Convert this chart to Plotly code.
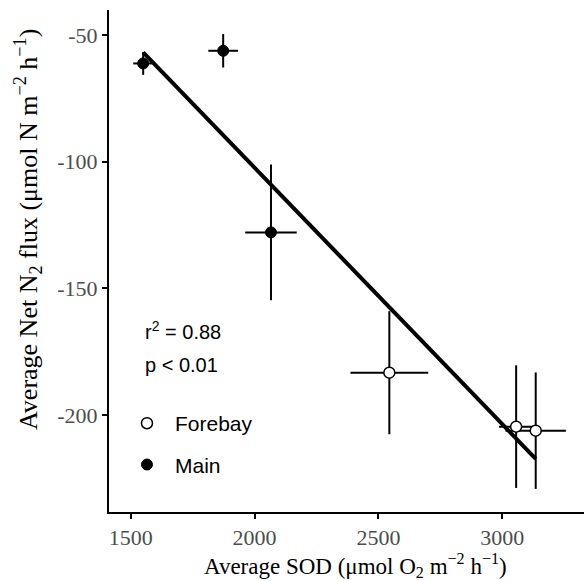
import numpy as np
import plotly.graph_objects as go

# Data
main_sod = [1550, 1873, 2066]
main_sod_err = [40, 60, 104]
main_n2 = [-61.2, -56.2, -127.9]
main_n2_err = [4.5, 6.6, 26.8]

fore_sod = [2544, 3056, 3135]
fore_sod_err = [157, 69, 122]
fore_n2 = [-183.3, -204.6, -206.2]
fore_n2_err = [24.3, 24.2, 23.0]

x_ticks = [1500, 2000, 2500, 3000]
y_ticks = [-50, -100, -150, -200]

# Regression line from the data
all_x = np.array(main_sod + fore_sod, dtype=float)
all_y = np.array(main_n2 + fore_n2, dtype=float)
slope, intercept = np.polyfit(all_x, all_y, 1)
fit_x = np.array([all_x.min(), all_x.max()])
fit_y = slope * fit_x + intercept

serif = "Liberation Serif"
sans = "Liberation Sans"

fig = go.Figure()

fig.add_trace(go.Scatter(
    x=fit_x, y=fit_y, mode="lines",
    line=dict(color="black", width=4),
    showlegend=False, hoverinfo="skip"))

err_style = dict(type="data", symmetric=True, color="black", thickness=2, width=0)

fig.add_trace(go.Scatter(
    x=fore_sod, y=fore_n2, mode="markers", name="Forebay",
    marker=dict(symbol="circle", size=11, color="white",
                line=dict(color="black", width=1.5)),
    error_x=dict(array=fore_sod_err, **err_style),
    error_y=dict(array=fore_n2_err, **err_style),
    legendgroup="a"))

fig.add_trace(go.Scatter(
    x=main_sod, y=main_n2, mode="markers", name="Main",
    marker=dict(symbol="circle", size=11, color="black",
                line=dict(color="black", width=1)),
    error_x=dict(array=main_sod_err, **err_style),
    error_y=dict(array=main_n2_err, **err_style),
    legendgroup="b"))

fig.update_layout(
    width=584, height=581,
    margin=dict(l=109, r=0, t=10, b=69),
    paper_bgcolor="white", plot_bgcolor="white",
    showlegend=True,
    legend=dict(x=0.021, y=0.217, xanchor="left", yanchor="top",
                font=dict(family=sans, size=21, color="black"),
                bgcolor="rgba(0,0,0,0)", traceorder="grouped",
                tracegroupgap=11, itemsizing="trace", itemwidth=46),
    xaxis=dict(range=[1412, 3330], tickvals=x_ticks,
               ticktext=[str(v) for v in x_ticks],
               showline=True, linecolor="black", linewidth=2,
               ticks="outside", ticklen=5, tickwidth=1.5, tickcolor="black",
               showgrid=False, zeroline=False,
               tickfont=dict(family=serif, size=22, color="#4d4d4d")),
    yaxis=dict(range=[-238.3, -40.1], tickvals=y_ticks,
               ticktext=[str(v) for v in y_ticks],
               showline=True, linecolor="black", linewidth=2,
               ticks="outside", ticklen=5, tickwidth=1.5, tickcolor="black",
               showgrid=False, zeroline=False,
               tickfont=dict(family=serif, size=22, color="#4d4d4d")),
    annotations=[
        dict(text="Average SOD (μmol O<sub>2</sub> m<sup>−2</sup> h<sup>−1</sup>)",
             xref="paper", yref="paper", x=(355 - 109) / 475, y=(512 - 565) / 502,
             xanchor="center", yanchor="middle", showarrow=False,
             font=dict(family=serif, size=23, color="black")),
        dict(text="Average Net N<sub>2</sub> flux (μmol N m<sup>−2</sup> h<sup>−1</sup>)",
             xref="paper", yref="paper", x=(28 - 109) / 475, y=(512 - 230) / 502,
             textangle=-90,
             xanchor="center", yanchor="middle", showarrow=False,
             font=dict(family=serif, size=26, color="black")),
        dict(text="r<sup>2</sup> = 0.88",
             xref="paper", yref="paper", x=0.072, y=(512 - 330) / 502,
             xanchor="left", yanchor="middle", showarrow=False,
             font=dict(family=sans, size=20, color="black")),
        dict(text="p < 0.01",
             xref="paper", yref="paper", x=0.072, y=(512 - 365) / 502,
             xanchor="left", yanchor="middle", showarrow=False,
             font=dict(family=sans, size=20, color="black")),
    ],
)

fig.write_html(
    "out.html",
    config={"displayModeBar": False},
    post_script="document.body.style.margin='0';document.body.style.padding='0';",
)
